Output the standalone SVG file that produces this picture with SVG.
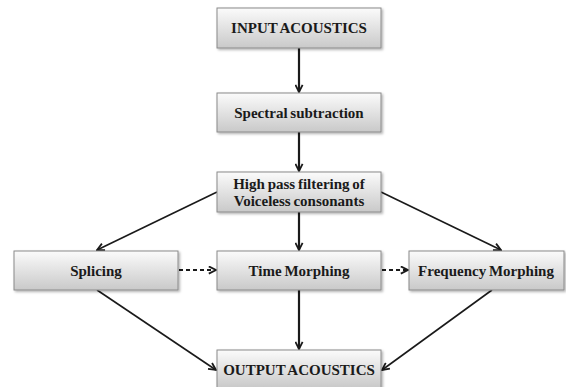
<svg xmlns="http://www.w3.org/2000/svg" width="566" height="387" viewBox="0 0 566 387">
  <defs>
    <linearGradient id="boxFill" x1="0" y1="0" x2="0" y2="1">
      <stop offset="0" stop-color="#fbfbfb"/>
      <stop offset="1" stop-color="#c9c9c9"/>
    </linearGradient>
    <filter id="shadow" x="-5%" y="-10%" width="112%" height="130%">
      <feDropShadow dx="1.5" dy="1.5" stdDeviation="1" flood-color="#000" flood-opacity="0.3"/>
    </filter>
    <marker id="arrow" viewBox="0 0 10 10" refX="9" refY="5" markerWidth="9" markerHeight="9" markerUnits="userSpaceOnUse" orient="auto">
      <path d="M1,1 L9,5 L1,9" fill="none" stroke="#1a1a1a" stroke-width="2"/>
    </marker>
  </defs>
  <style>
    .box { fill: url(#boxFill); stroke: #8a8a8a; stroke-width: 1; filter: url(#shadow); }
    .lbl { font-family: "Liberation Serif", "Times New Roman", serif; font-weight: bold; font-size: 15px; word-spacing: -1px; fill: #1a1a1a; text-anchor: middle; }
    .edge { stroke: #1a1a1a; stroke-width: 1.6; fill: none; marker-end: url(#arrow); }
    .main { stroke-width: 2.2; }
    .dash { stroke-width: 2; stroke-dasharray: 4 3; }
  </style>
  <rect width="566" height="387" fill="#ffffff"/>

  <g id="connectors">
    <line class="edge main" x1="299" y1="48" x2="299" y2="92"/>
    <line class="edge main" x1="299" y1="132" x2="299" y2="171"/>
    <line class="edge main" x1="299" y1="212" x2="299" y2="250"/>
    <line class="edge main" x1="299" y1="290" x2="299" y2="349"/>
    <line class="edge" x1="217" y1="192" x2="97" y2="250"/>
    <line class="edge" x1="381" y1="192" x2="501" y2="250"/>
    <line class="edge" x1="97" y1="290" x2="216" y2="370"/>
    <line class="edge" x1="492" y1="290" x2="382" y2="370"/>
    <line class="edge dash" x1="179" y1="270" x2="216" y2="270"/>
    <line class="edge dash" x1="382" y1="270" x2="408" y2="270"/>
  </g>

  <g id="input-acoustics">
    <rect class="box" x="217" y="8" width="164" height="40"/>
    <text class="lbl" x="299" y="33">INPUT ACOUSTICS</text>
  </g>
  <g id="spectral-subtraction">
    <rect class="box" x="217" y="93" width="164" height="39"/>
    <text class="lbl" x="299" y="118">Spectral subtraction</text>
  </g>
  <g id="high-pass-filtering">
    <rect class="box" x="217" y="172" width="164" height="40"/>
    <text class="lbl" x="299" y="189">High pass filtering of</text>
    <text class="lbl" x="299" y="206">Voiceless consonants</text>
  </g>
  <g id="splicing">
    <rect class="box" x="14" y="251" width="164" height="39"/>
    <text class="lbl" x="96" y="276">Splicing</text>
  </g>
  <g id="time-morphing">
    <rect class="box" x="217" y="251" width="164" height="39"/>
    <text class="lbl" x="299" y="276">Time Morphing</text>
  </g>
  <g id="frequency-morphing">
    <rect class="box" x="409" y="251" width="155" height="39"/>
    <text class="lbl" x="486" y="276">Frequency Morphing</text>
  </g>
  <g id="output-acoustics">
    <rect class="box" x="217" y="350" width="164" height="38"/>
    <text class="lbl" x="299" y="375">OUTPUT ACOUSTICS</text>
  </g>
</svg>
